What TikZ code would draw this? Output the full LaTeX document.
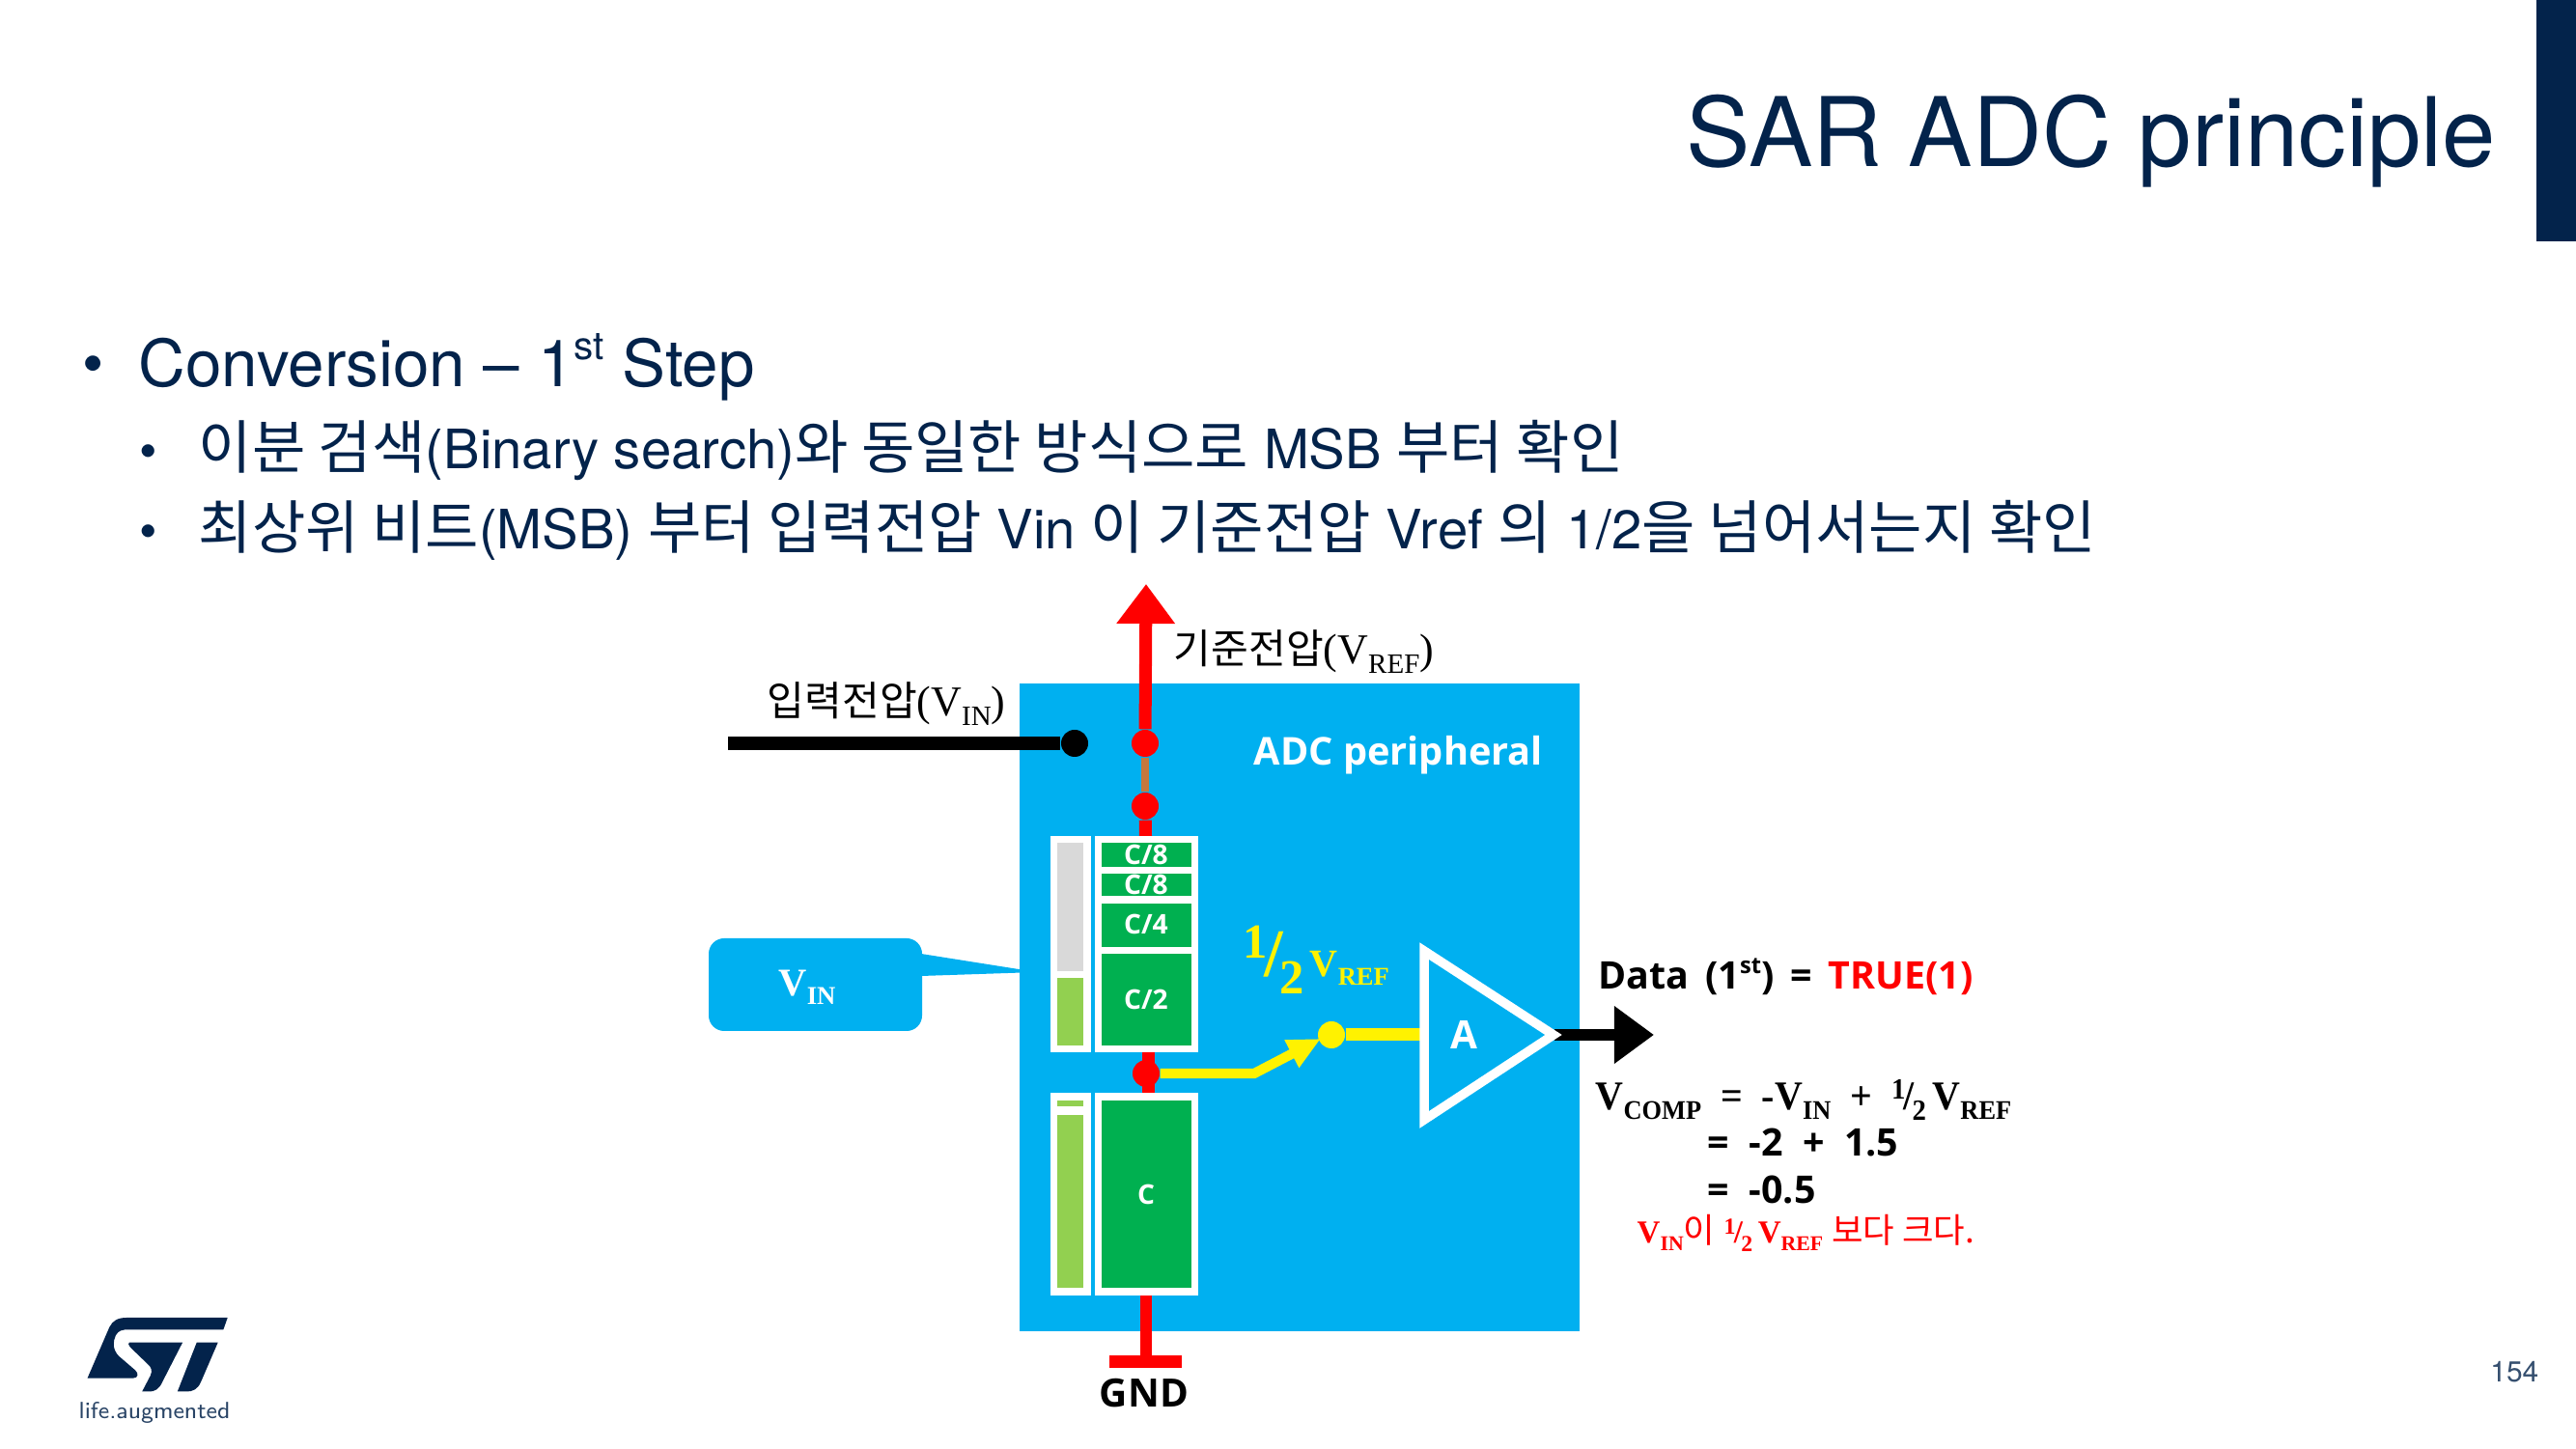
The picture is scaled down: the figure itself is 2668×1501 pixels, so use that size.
\documentclass[tikz,border=0pt]{standalone}
\usepackage{fontspec}
\usepackage{xcolor}
\usetikzlibrary{arrows.meta}
\setmainfont{TeX Gyre Heros}
\newfontfamily\krfont[Scale=1.07]{Noto Sans CJK KR}
\newfontfamily\boldsans{Open Sans}
\newfontfamily\capserif{Liberation Serif}
\definecolor{stnavy}{RGB}{3, 35, 75}
\definecolor{adcblue}{RGB}{0, 176, 240}
\definecolor{capgreen}{RGB}{0, 176, 80}
\definecolor{chargegreen}{RGB}{146, 208, 80}
\definecolor{emptygray}{RGB}{217, 217, 217}
\definecolor{busorange}{RGB}{197, 120, 60}
\newcommand{\kr}[1]{{\krfont #1}}
\newcommand{\subtxt}[2]{#1\raisebox{-.22em}{\scalebox{.66}{#2}}}
\newcommand{\halfsym}{\raisebox{.28em}{\scalebox{.72}{1}}\kern-.05em/\kern-.05em\raisebox{-.25em}{\scalebox{.72}{2}}}
\tikzset{
    slidetext/.style={anchor=base west, inner sep=0pt, text=stnavy},
    difftext/.style={anchor=base west, inner sep=0pt, font=\fontsize{11.2}{14}\selectfont\boldsans\bfseries},
    serifeq/.style={anchor=base west, inner sep=0pt, font=\fontsize{12}{14}\selectfont\capserif\bfseries},
    caplabel/.style={text=white, inner sep=0pt, font=\fontsize{8}{10}\selectfont\boldsans\bfseries},
    wiredot/.style={circle, inner sep=0pt, minimum size=0.28cm},
    bullet/.style={inner sep=0pt, text=stnavy, font=\fontsize{18}{18}\selectfont}
}
\begin{document}
\begin{tikzpicture}[x=0.01cm, y=-0.01cm]
    \useasboundingbox (0,0) rectangle (2668,1501);
    \fill[stnavy] (2627,0) rectangle (2668,250);
    \node[slidetext, anchor=base east, font=\fontsize{28.3}{32}\selectfont] (title) at (2586,173) {SAR ADC principle};
    \node[bullet] (bulleta) at (97,384) {•};
    \node[slidetext, font=\fontsize{19.15}{22}\selectfont] (stepline) at (143,401) {Conversion – 1\raisebox{.42em}{\scalebox{.6}{st}} Step};
    \node[bullet, font=\fontsize{15}{15}\selectfont] (bulletb) at (154,473) {•};
    \node[slidetext, font=\fontsize{16}{20}\selectfont] (searchline) at (205,486) {\kr{이분 검색}(Binary search)\kr{와 동일한 방식으로} MSB \kr{부터 확인}};
    \node[bullet, font=\fontsize{15}{15}\selectfont] (bulletc) at (154,556) {•};
    \node[slidetext, font=\fontsize{16}{20}\selectfont] (msbline) at (205,569) {\kr{최상위 비트}(MSB) \kr{부터 입력전압} Vin \kr{이 기준전압} Vref \kr{의} 1/2\kr{을 넘어서는지 확인}};

    \fill[adcblue] (1056,708) rectangle (1636,1379);
    \node[anchor=base west, inner sep=0pt, text=white, font=\fontsize{11.3}{14}\selectfont\boldsans\bfseries] (adclabel) at (1298,793) {ADC peripheral};

    \coordinate (vinstart) at (754,770);
    \node[wiredot, fill=black] (vindot) at (1113,770) {};
    \draw[line width=3.9pt] (vinstart) -- (vindot);
    \node[anchor=base west, inner sep=0pt, font=\fontsize{11.2}{14}\selectfont] (vinlabel) at (794,742) {\kr{입력전압}\capserif\fontsize{12.5}{14}\selectfont(\subtxt{V}{IN})};

    \coordinate (reftop) at (1187,605);
    \node[wiredot, fill=red] (refdot) at (1186,770) {};
    \node[wiredot, fill=red] (capdot) at (1186,835) {};
    \draw[line width=3.7pt, red, -{Triangle[length=0.41cm, width=0.58cm]}] (refdot) -- (reftop);
    \draw[line width=2pt, busorange] (refdot) -- (capdot);
    \node[anchor=base west, inner sep=0pt, font=\fontsize{11.2}{14}\selectfont] (reflabel) at (1215,688) {\kr{기준전압}\capserif\fontsize{12.5}{14}\selectfont(\subtxt{V}{REF})};

    \coordinate (captop) at (1186.5,866);
    \draw[line width=3.7pt, red] (capdot) -- (captop);
    \fill[white] (1087.5,866) rectangle (1129.5,1090.5);
    \fill[white] (1133.5,866) rectangle (1241,1090.5);
    \fill[emptygray] (1095,873) rectangle (1122,1006);
    \fill[chargegreen] (1095,1013) rectangle (1122,1083);
    \fill[capgreen] (1140.5,873) rectangle (1234,898);
    \fill[capgreen] (1140.5,905) rectangle (1234,928);
    \fill[capgreen] (1140.5,936) rectangle (1234,981);
    \fill[capgreen] (1140.5,988) rectangle (1234,1083);
    \node[caplabel] (capa) at (1187,885) {C/8};
    \node[caplabel] (capb) at (1187,916) {C/8};
    \node[caplabel] (capc) at (1187,957) {C/4};
    \node[caplabel] (capd) at (1187,1035) {C/2};

    \fill[white] (1087.5,1132) rectangle (1129.5,1342);
    \fill[white] (1133.5,1132) rectangle (1241,1342);
    \fill[chargegreen] (1095,1140) rectangle (1122,1146);
    \fill[chargegreen] (1095,1155) rectangle (1122,1334);
    \fill[capgreen] (1140.5,1140) rectangle (1234,1334);
    \node[caplabel] (cape) at (1187,1237) {C};

    \coordinate (midtop) at (1189,1090);
    \coordinate (midbot) at (1189,1132);
    \draw[line width=3.7pt, red] (midtop) -- (midbot);
    \coordinate (gndtop) at (1187,1342);
    \coordinate (gndend) at (1187,1404);
    \draw[line width=3.5pt, red] (gndtop) -- (gndend);
    \fill[red] (1149,1404) rectangle (1224,1417);
    \node[anchor=base, inner sep=0pt, font=\fontsize{11.5}{14}\selectfont\boldsans\bfseries] (gndlabel) at (1185,1458) {GND};

    \node[wiredot, fill=yellow] (halfdot) at (1379,1072) {};
    \coordinate (swbend) at (1299,1112);
    \coordinate (swtip) at (1368,1076);
    \node[wiredot, fill=red] (middot) at (1187,1112) {};
    \draw[line width=2.9pt, yellow, -{Triangle[length=0.34cm, width=0.3cm]}] (middot) -- (swbend) -- (swtip);
    \coordinate (ampin) at (1472,1072);
    \draw[line width=3.7pt, yellow] (halfdot) -- (ampin);
    \node[anchor=base west, inner sep=0pt, text=yellow, font=\fontsize{11.4}{14}\selectfont\capserif\bfseries] (halflabel) at (1287,1012) {{\fontsize{20}{20}\selectfont\halfsym}\kern.15em\subtxt{V}{REF}};

    \coordinate (ampout) at (1610,1072);
    \coordinate (dataout) at (1713,1072);
    \draw[line width=3.5pt, -{Triangle[length=0.41cm, width=0.57cm]}] (ampout) -- (dataout);
    \draw[line width=2.7pt, white, miter limit=10] (1475,985) -- (1609,1072) -- (1475,1160) -- cycle;
    \node[text=white, inner sep=0pt, font=\fontsize{11.5}{14}\selectfont\boldsans\bfseries] (amplabel) at (1516,1072) {A};

    \node[difftext] (datalabel) at (1655,1025) {Data\ \,(1\raisebox{.42em}{\scalebox{.6}{st}})\ \,=\ \,\textcolor{red}{TRUE(1)}};
    \node[serifeq] (compline) at (1652,1150) {\scalebox{.947}[1]{\subtxt{V}{COMP}\ \ =\ \ -\subtxt{V}{IN}\ \ +\ \ \halfsym\,\subtxt{V}{REF}}};
    \node[difftext] (subline) at (1768,1198) {=\ \ -2\ \ +\ \ 1.5};
    \node[difftext] (resline) at (1768,1247) {=\ \ -0.5};
    \node[anchor=base west, inner sep=0pt, text=red, font=\fontsize{9.4}{12}\selectfont] (concline) at (1695,1288) {{\capserif\bfseries\subtxt{V}{IN}}\kr{이} {\capserif\bfseries\halfsym\,\subtxt{V}{REF}} \kr{보다 크다.}};

    \fill[adcblue, rounded corners=0.16cm] (734,972) rectangle (955,1068);
    \fill[adcblue] (954,988) -- (1074,1007) -- (954,1011) -- cycle;
    \node[text=white, inner sep=0pt, font=\fontsize{11.5}{14}\selectfont\capserif\bfseries] (vinbox) at (836,1023) {\subtxt{V}{IN}};

    \begin{scope}[shift={(60,1340)}, x=0.00333cm, y=-0.00333cm]
        \fill[stnavy] (528,75) -- (215,75) .. controls (185,75) and (170,85) .. (160,105) -- (92,263) -- (235,263) .. controls (250,263) and (252,248) .. (240,238) -- (190,195) .. controls (170,175) and (170,150) .. (180,130) .. controls (188,115) and (200,112) .. (220,112) -- (515,112) -- cycle;
        \fill[stnavy] (222,152) -- (388,152) -- (325,275) .. controls (315,298) and (300,305) .. (285,305) -- (262,305) -- (288,255) .. controls (295,240) and (290,228) .. (280,220) -- (228,170) .. controls (218,160) and (218,152) .. (222,152) -- cycle;
        \fill[stnavy] (432,152) -- (498,152) -- (445,275) .. controls (435,298) and (420,305) .. (400,305) -- (372,305) -- cycle;
    \end{scope}
    \node[anchor=base west, inner sep=0pt, text=stnavy!85, font=\fontsize{6.9}{8}\selectfont\sffamily] (lifelabel) at (81,1470) {life.augmented};
    \node[anchor=base east, inner sep=0pt, text=stnavy!80, font=\fontsize{8.5}{10}\selectfont] (pageno) at (2630,1432) {154};
\end{tikzpicture}
\end{document}
